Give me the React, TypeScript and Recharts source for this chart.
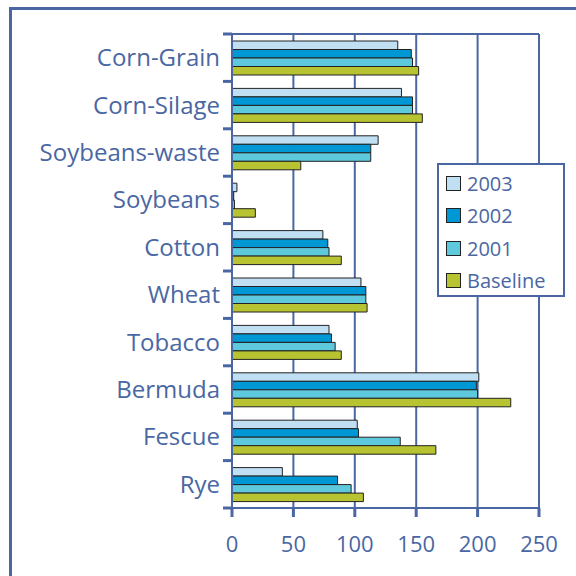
import React from 'react';
import { BarChart, Bar, XAxis, YAxis, CartesianGrid } from 'recharts';

const crops = [
  'Corn-Grain',
  'Corn-Silage',
  'Soybeans-waste',
  'Soybeans',
  'Cotton',
  'Wheat',
  'Tobacco',
  'Bermuda',
  'Fescue',
  'Rye',
];

const y2003 = [135, 138, 119, 4, 74, 105, 79, 201, 102, 41];
const y2002 = [146, 147, 113, 1.4, 78, 109, 81, 199, 103, 86];
const y2001 = [147, 147, 113, 2, 79, 109, 84, 200, 137, 97];
const baseline = [152, 155, 56, 19, 89, 110, 89, 227, 166, 107];

const xTicks = [0, 50, 100, 150, 200, 250];

const series = [
  { key: 'y2003', name: '2003', color: '#C0DFF3' },
  { key: 'y2002', name: '2002', color: '#0098D4' },
  { key: 'y2001', name: '2001', color: '#5EC9DC' },
  { key: 'baseline', name: 'Baseline', color: '#B7C330' },
];

const data = crops.map((crop, i) => ({
  crop,
  y2003: y2003[i],
  y2002: y2002[i],
  y2001: y2001[i],
  baseline: baseline[i],
}));

const BLUE = '#4A67A3';
const FONT = '"Open Sans", "Liberation Sans", sans-serif';
const LABEL_GAP = 12;
const TICK_LEN = 9;

// crop label at the band centre, tick marks at the band edges
const CropTick = (props: any) => {
  const { x, y, payload } = props;
  const half = payload?.offset ?? 0;
  const axisX = x + LABEL_GAP;
  const last = payload?.index === crops.length - 1;
  return (
    <g>
      <text
        x={x}
        y={y}
        dy='0.35em'
        textAnchor='end'
        fill={BLUE}
        fontSize={24}
        fontFamily={FONT}
      >
        {payload.value}
      </text>
      <line
        x1={axisX - TICK_LEN}
        x2={axisX}
        y1={y - half}
        y2={y - half}
        stroke={BLUE}
        strokeWidth={3}
      />
      {last && (
        <line
          x1={axisX - TICK_LEN}
          x2={axisX}
          y1={y + half}
          y2={y + half}
          stroke={BLUE}
          strokeWidth={3}
        />
      )}
    </g>
  );
};

const LegendBox = () => (
  <div
    style={{
      position: 'absolute',
      left: 437,
      top: 163,
      width: 124,
      height: 128,
      border: `2px solid ${BLUE}`,
      background: '#fff',
      paddingTop: 2,
    }}
  >
    {series.map(s => (
      <div
        key={s.key}
        style={{
          display: 'flex',
          alignItems: 'center',
          height: 32.5,
          paddingLeft: 7,
        }}
      >
        <span
          style={{
            width: 13,
            height: 13,
            background: s.color,
            border: '1px solid #222',
            marginRight: 6,
          }}
        />
        <span style={{ color: BLUE, fontSize: 20, fontFamily: FONT }}>
          {s.name}
        </span>
      </div>
    ))}
  </div>
);

export default function App() {
  return (
    <div
      style={{
        position: 'absolute',
        left: 0,
        top: 0,
        width: 576,
        height: 576,
        overflow: 'hidden',
        background: '#fff',
      }}
    >
      <div
        style={{
          position: 'absolute',
          left: 9,
          top: 7,
          width: 600,
          height: 600,
          borderLeft: `3px solid ${BLUE}`,
          borderTop: `3px solid ${BLUE}`,
        }}
      />
      <div style={{ position: 'absolute', left: 0, top: 0 }}>
        <BarChart
          width={576}
          height={576}
          data={data}
          layout='vertical'
          margin={{ top: 34, right: 37, bottom: 0, left: 0 }}
          barGap={0}
          barSize={8.5}
        >
          <CartesianGrid
            vertical
            horizontal
            horizontalPoints={[34]}
            stroke={BLUE}
            strokeWidth={2}
          />
          <XAxis
            type='number'
            domain={[0, 250]}
            ticks={xTicks}
            height={68}
            stroke={BLUE}
            strokeWidth={2}
            tickLine={{ stroke: BLUE, strokeWidth: 3 }}
            tickSize={9}
            tickMargin={19}
            tick={{ fill: BLUE, fontSize: 22, fontFamily: FONT }}
          />
          <YAxis
            type='category'
            dataKey='crop'
            width={232}
            stroke={BLUE}
            strokeWidth={2}
            tickLine={false}
            tickSize={0}
            tickMargin={LABEL_GAP}
            tick={<CropTick />}
          />
          {series.map(s => (
            <Bar
              key={s.key}
              dataKey={s.key}
              name={s.name}
              fill={s.color}
              stroke='#222'
              strokeWidth={1}
              isAnimationActive={false}
            />
          ))}
        </BarChart>
      </div>
      <LegendBox />
    </div>
  );
}
